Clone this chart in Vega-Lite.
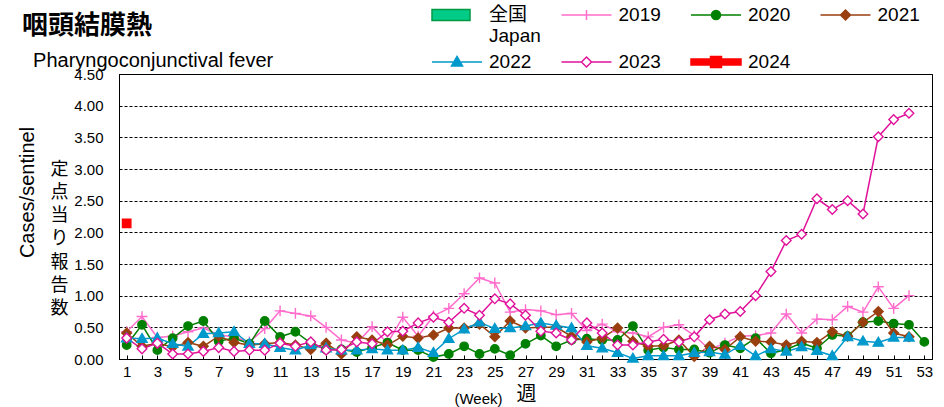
{
  "$schema": "https://vega.github.io/schema/vega-lite/v6.json",
  "width": 813,
  "height": 285,
  "autosize": {"type": "none"},
  "padding": {"left": 119, "top": 74, "right": 12, "bottom": 48},
  "config": {
    "font": "Liberation Sans, Noto Sans CJK JP, sans-serif",
    "view": {"stroke": "black", "strokeWidth": 1},
    "legend": {
      "orient": "none", "legendX": 327, "legendY": -70,
      "columns": 4, "direction": "horizontal", "title": null, "gridAlign": "all",
      "symbolSize": 400, "symbolStrokeWidth": 1.5, "symbolOpacity": 1,
      "labelFontSize": 19, "labelFont": "Liberation Sans, Noto Sans CJK JP", "labelColor": "black",
      "labelOffset": 21, "labelLimit": 200, "columnPadding": 17.5, "rowPadding": 5
    }
  },
  "title": {
    "text": "咽頭結膜熱",
    "subtitle": "\u200b\u00a0\u00a0Pharyngoconjunctival fever",
    "anchor": "start",
    "frame": "group",
    "dx": -97,
    "dy": 65,
    "offset": -2,
    "font": "Noto Sans CJK JP",
    "fontSize": 26,
    "fontWeight": "bold",
    "color": "black",
    "subtitleFont": "Liberation Sans",
    "subtitleFontSize": 20,
    "subtitleColor": "black",
    "subtitlePadding": 12
  },
  "data": {"values": [
    {"w":1,"s":"2019","v":0.43},{"w":2,"s":"2019","v":0.67},{"w":3,"s":"2019","v":0.34},{"w":4,"s":"2019","v":0.36},{"w":5,"s":"2019","v":0.43},{"w":6,"s":"2019","v":0.49},{"w":7,"s":"2019","v":0.38},{"w":8,"s":"2019","v":0.35},{"w":9,"s":"2019","v":0.27},{"w":10,"s":"2019","v":0.48},
    {"w":11,"s":"2019","v":0.76},{"w":12,"s":"2019","v":0.72},{"w":13,"s":"2019","v":0.68},{"w":14,"s":"2019","v":0.50},{"w":15,"s":"2019","v":0.30},{"w":16,"s":"2019","v":0.25},{"w":17,"s":"2019","v":0.51},{"w":18,"s":"2019","v":0.25},{"w":19,"s":"2019","v":0.66},{"w":20,"s":"2019","v":0.36},
    {"w":21,"s":"2019","v":0.68},{"w":22,"s":"2019","v":0.80},{"w":23,"s":"2019","v":1.03},{"w":24,"s":"2019","v":1.28},{"w":25,"s":"2019","v":1.20},{"w":26,"s":"2019","v":0.74},{"w":27,"s":"2019","v":0.78},{"w":28,"s":"2019","v":0.76},{"w":29,"s":"2019","v":0.70},{"w":30,"s":"2019","v":0.72},
    {"w":31,"s":"2019","v":0.45},{"w":32,"s":"2019","v":0.55},{"w":33,"s":"2019","v":0.43},{"w":34,"s":"2019","v":0.41},{"w":35,"s":"2019","v":0.35},{"w":36,"s":"2019","v":0.50},{"w":37,"s":"2019","v":0.54},{"w":38,"s":"2019","v":0.37},{"w":39,"s":"2019","v":0.15},{"w":40,"s":"2019","v":0.25},
    {"w":41,"s":"2019","v":0.36},{"w":42,"s":"2019","v":0.37},{"w":43,"s":"2019","v":0.41},{"w":44,"s":"2019","v":0.71},{"w":45,"s":"2019","v":0.41},{"w":46,"s":"2019","v":0.63},{"w":47,"s":"2019","v":0.62},{"w":48,"s":"2019","v":0.83},{"w":49,"s":"2019","v":0.74},{"w":50,"s":"2019","v":1.14},
    {"w":51,"s":"2019","v":0.80},{"w":52,"s":"2019","v":1.00},

    {"w":1,"s":"2020","v":0.22},{"w":2,"s":"2020","v":0.54},{"w":3,"s":"2020","v":0.14},{"w":4,"s":"2020","v":0.33},{"w":5,"s":"2020","v":0.52},{"w":6,"s":"2020","v":0.60},{"w":7,"s":"2020","v":0.28},{"w":8,"s":"2020","v":0.33},{"w":9,"s":"2020","v":0.24},{"w":10,"s":"2020","v":0.60},
    {"w":11,"s":"2020","v":0.35},{"w":12,"s":"2020","v":0.43},{"w":13,"s":"2020","v":0.25},{"w":14,"s":"2020","v":0.15},{"w":15,"s":"2020","v":0.15},{"w":16,"s":"2020","v":0.11},{"w":17,"s":"2020","v":0.18},{"w":18,"s":"2020","v":0.26},{"w":19,"s":"2020","v":0.14},{"w":20,"s":"2020","v":0.14},
    {"w":21,"s":"2020","v":0.03},{"w":22,"s":"2020","v":0.08},{"w":23,"s":"2020","v":0.20},{"w":24,"s":"2020","v":0.08},{"w":25,"s":"2020","v":0.16},{"w":26,"s":"2020","v":0.06},{"w":27,"s":"2020","v":0.24},{"w":28,"s":"2020","v":0.37},{"w":29,"s":"2020","v":0.20},{"w":30,"s":"2020","v":0.30},
    {"w":31,"s":"2020","v":0.32},{"w":32,"s":"2020","v":0.30},{"w":33,"s":"2020","v":0.30},{"w":34,"s":"2020","v":0.52},{"w":35,"s":"2020","v":0.14},{"w":36,"s":"2020","v":0.18},{"w":37,"s":"2020","v":0.15},{"w":38,"s":"2020","v":0.15},{"w":39,"s":"2020","v":0.10},{"w":40,"s":"2020","v":0.22},
    {"w":41,"s":"2020","v":0.17},{"w":42,"s":"2020","v":0.33},{"w":43,"s":"2020","v":0.09},{"w":44,"s":"2020","v":0.15},{"w":45,"s":"2020","v":0.25},{"w":46,"s":"2020","v":0.17},{"w":47,"s":"2020","v":0.38},{"w":48,"s":"2020","v":0.36},{"w":49,"s":"2020","v":0.58},{"w":50,"s":"2020","v":0.60},
    {"w":51,"s":"2020","v":0.56},{"w":52,"s":"2020","v":0.54},{"w":53,"s":"2020","v":0.27},

    {"w":1,"s":"2021","v":0.41},{"w":2,"s":"2021","v":0.20},{"w":3,"s":"2021","v":0.25},{"w":4,"s":"2021","v":0.19},{"w":5,"s":"2021","v":0.26},{"w":6,"s":"2021","v":0.20},{"w":7,"s":"2021","v":0.36},{"w":8,"s":"2021","v":0.26},{"w":9,"s":"2021","v":0.22},{"w":10,"s":"2021","v":0.24},
    {"w":11,"s":"2021","v":0.26},{"w":12,"s":"2021","v":0.22},{"w":13,"s":"2021","v":0.15},{"w":14,"s":"2021","v":0.25},{"w":15,"s":"2021","v":0.08},{"w":16,"s":"2021","v":0.35},{"w":17,"s":"2021","v":0.30},{"w":18,"s":"2021","v":0.22},{"w":19,"s":"2021","v":0.36},{"w":20,"s":"2021","v":0.33},
    {"w":21,"s":"2021","v":0.38},{"w":22,"s":"2021","v":0.49},{"w":23,"s":"2021","v":0.49},{"w":24,"s":"2021","v":0.55},{"w":25,"s":"2021","v":0.35},{"w":26,"s":"2021","v":0.60},{"w":27,"s":"2021","v":0.49},{"w":28,"s":"2021","v":0.50},{"w":29,"s":"2021","v":0.50},{"w":30,"s":"2021","v":0.36},
    {"w":31,"s":"2021","v":0.27},{"w":32,"s":"2021","v":0.33},{"w":33,"s":"2021","v":0.49},{"w":34,"s":"2021","v":0.28},{"w":35,"s":"2021","v":0.20},{"w":36,"s":"2021","v":0.21},{"w":37,"s":"2021","v":0.30},{"w":38,"s":"2021","v":0.04},{"w":39,"s":"2021","v":0.20},{"w":40,"s":"2021","v":0.15},
    {"w":41,"s":"2021","v":0.35},{"w":42,"s":"2021","v":0.28},{"w":43,"s":"2021","v":0.27},{"w":44,"s":"2021","v":0.22},{"w":45,"s":"2021","v":0.28},{"w":46,"s":"2021","v":0.26},{"w":47,"s":"2021","v":0.43},{"w":48,"s":"2021","v":0.36},{"w":49,"s":"2021","v":0.58},{"w":50,"s":"2021","v":0.75},
    {"w":51,"s":"2021","v":0.41},{"w":52,"s":"2021","v":0.35},

    {"w":1,"s":"2022","v":0.33},{"w":2,"s":"2022","v":0.32},{"w":3,"s":"2022","v":0.33},{"w":4,"s":"2022","v":0.24},{"w":5,"s":"2022","v":0.20},{"w":6,"s":"2022","v":0.40},{"w":7,"s":"2022","v":0.41},{"w":8,"s":"2022","v":0.43},{"w":9,"s":"2022","v":0.24},{"w":10,"s":"2022","v":0.24},
    {"w":11,"s":"2022","v":0.18},{"w":12,"s":"2022","v":0.14},{"w":13,"s":"2022","v":0.22},{"w":14,"s":"2022","v":0.17},{"w":15,"s":"2022","v":0.14},{"w":16,"s":"2022","v":0.14},{"w":17,"s":"2022","v":0.16},{"w":18,"s":"2022","v":0.14},{"w":19,"s":"2022","v":0.14},{"w":20,"s":"2022","v":0.18},
    {"w":21,"s":"2022","v":0.10},{"w":22,"s":"2022","v":0.32},{"w":23,"s":"2022","v":0.47},{"w":24,"s":"2022","v":0.58},{"w":25,"s":"2022","v":0.48},{"w":26,"s":"2022","v":0.49},{"w":27,"s":"2022","v":0.52},{"w":28,"s":"2022","v":0.57},{"w":29,"s":"2022","v":0.53},{"w":30,"s":"2022","v":0.49},
    {"w":31,"s":"2022","v":0.21},{"w":32,"s":"2022","v":0.17},{"w":33,"s":"2022","v":0.10},{"w":34,"s":"2022","v":0.01},{"w":35,"s":"2022","v":0.05},{"w":36,"s":"2022","v":0.05},{"w":37,"s":"2022","v":0.05},{"w":38,"s":"2022","v":0.10},{"w":39,"s":"2022","v":0.11},{"w":40,"s":"2022","v":0.07},
    {"w":41,"s":"2022","v":0.21},{"w":42,"s":"2022","v":0.05},{"w":43,"s":"2022","v":0.16},{"w":44,"s":"2022","v":0.12},{"w":45,"s":"2022","v":0.19},{"w":46,"s":"2022","v":0.13},{"w":47,"s":"2022","v":0.05},{"w":48,"s":"2022","v":0.35},{"w":49,"s":"2022","v":0.28},{"w":50,"s":"2022","v":0.26},
    {"w":51,"s":"2022","v":0.34},{"w":52,"s":"2022","v":0.34},

    {"w":1,"s":"2023","v":0.33},{"w":2,"s":"2023","v":0.16},{"w":3,"s":"2023","v":0.25},{"w":4,"s":"2023","v":0.08},{"w":5,"s":"2023","v":0.08},{"w":6,"s":"2023","v":0.12},{"w":7,"s":"2023","v":0.18},{"w":8,"s":"2023","v":0.12},{"w":9,"s":"2023","v":0.14},{"w":10,"s":"2023","v":0.14},
    {"w":11,"s":"2023","v":0.25},{"w":12,"s":"2023","v":0.20},{"w":13,"s":"2023","v":0.27},{"w":14,"s":"2023","v":0.14},{"w":15,"s":"2023","v":0.15},{"w":16,"s":"2023","v":0.27},{"w":17,"s":"2023","v":0.24},{"w":18,"s":"2023","v":0.43},{"w":19,"s":"2023","v":0.44},{"w":20,"s":"2023","v":0.57},
    {"w":21,"s":"2023","v":0.66},{"w":22,"s":"2023","v":0.58},{"w":23,"s":"2023","v":0.80},{"w":24,"s":"2023","v":0.69},{"w":25,"s":"2023","v":0.95},{"w":26,"s":"2023","v":0.87},{"w":27,"s":"2023","v":0.69},{"w":28,"s":"2023","v":0.44},{"w":29,"s":"2023","v":0.41},{"w":30,"s":"2023","v":0.30},
    {"w":31,"s":"2023","v":0.57},{"w":32,"s":"2023","v":0.41},{"w":33,"s":"2023","v":0.22},{"w":34,"s":"2023","v":0.22},{"w":35,"s":"2023","v":0.27},{"w":36,"s":"2023","v":0.31},{"w":37,"s":"2023","v":0.27},{"w":38,"s":"2023","v":0.35},{"w":39,"s":"2023","v":0.62},{"w":40,"s":"2023","v":0.71},
    {"w":41,"s":"2023","v":0.75},{"w":42,"s":"2023","v":1.00},{"w":43,"s":"2023","v":1.38},{"w":44,"s":"2023","v":1.87},{"w":45,"s":"2023","v":1.97},{"w":46,"s":"2023","v":2.53},{"w":47,"s":"2023","v":2.36},{"w":48,"s":"2023","v":2.50},{"w":49,"s":"2023","v":2.29},{"w":50,"s":"2023","v":3.51},
    {"w":51,"s":"2023","v":3.78},{"w":52,"s":"2023","v":3.88},

    {"w":1,"s":"2024","v":2.14}
  ]},
  "layer": [
    {
      "mark": {"type": "line", "strokeWidth": 1.5},
      "encoding": {
        "x": {"field": "w", "type": "quantitative",
          "scale": {"domain": [0.5, 53.5], "nice": false, "zero": false},
          "axis": {
            "orient": "bottom",
            "values": [1,2,3,4,5,6,7,8,9,10,11,12,13,14,15,16,17,18,19,20,21,22,23,24,25,26,27,28,29,30,31,32,33,34,35,36,37,38,39,40,41,42,43,44,45,46,47,48,49,50,51,52,53],
            "labelExpr": "datum.value % 2 == 1 ? datum.label : ''",
            "labelFontSize": 15, "labelColor": "black", "labelFont": "Liberation Sans",
            "labelPadding": 9, "labelAngle": 0, "labelOverlap": false, "labelFlush": false,
            "tickSize": -4, "tickColor": "black", "domainColor": "black", "grid": false,
            "title": "(Week)", "titleX": 359, "titleY": 39, "titleAlign": "center", "titleBaseline": "middle",
            "titleFontSize": 15, "titleFontWeight": "normal", "titleFont": "Liberation Sans", "titleColor": "black"
          }
        },
        "y": {"field": "v", "type": "quantitative",
          "scale": {"domain": [0, 4.5], "nice": false},
          "axis": {
            "orient": "left",
            "values": [0, 0.5, 1, 1.5, 2, 2.5, 3, 3.5, 4, 4.5],
            "format": ".2f",
            "labelFontSize": 15, "labelColor": "black", "labelFont": "Liberation Sans", "labelPadding": 16,
            "ticks": false, "domainColor": "black",
            "grid": true, "gridColor": "black", "gridDash": [3, 2], "gridOpacity": 1, "gridWidth": 1,
            "title": ["定", "点", "当", "り", "報", "告", "数"],
            "titleAngle": 0, "titleX": -60, "titleY": 86, "titleAlign": "center", "titleBaseline": "top",
            "titleFont": "Noto Sans CJK JP", "titleFontSize": 18, "titleFontWeight": "normal", "titleLineHeight": 23.3, "titleColor": "black"
          }
        },
        "stroke": {"field": "s", "type": "nominal",
          "scale": {"domain": ["2019", "2020", "2021", "2022", "2023", "2024"],
                    "range": ["#ff6ccc", "#008000", "#993f0f", "#0099cc", "#e0139a", "#ff0000"]},
          "legend": null
        }
      }
    },
    {
      "mark": {"type": "point", "filled": true, "size": 144, "strokeWidth": 1.4, "opacity": 1},
      "encoding": {
        "x": {"field": "w", "type": "quantitative",
          "axis": {
            "orient": "bottom", "domain": false, "ticks": false, "labels": false, "grid": false,
            "title": "週", "titleX": 407, "titleY": 35, "titleAlign": "center", "titleBaseline": "middle",
            "titleFont": "Noto Sans CJK JP", "titleFontSize": 20, "titleFontWeight": "normal", "titleColor": "black"
          }
        },
        "y": {"field": "v", "type": "quantitative",
          "axis": {
            "orient": "left", "domain": false, "ticks": false, "labels": false, "grid": false,
            "title": "Cases/sentinel", "titleAngle": -90, "titleX": -92, "titleY": 118,
            "titleAlign": "center", "titleBaseline": "middle",
            "titleFont": "Liberation Sans", "titleFontSize": 20, "titleFontWeight": "normal", "titleColor": "black"
          }
        },
        "stroke": {"field": "s", "type": "nominal",
          "scale": {"domain": ["2019", "2020", "2021", "2022", "2023", "2024"],
                    "range": ["#ff6ccc", "#008000", "#993f0f", "#0099cc", "#e0139a", "#ff0000"]},
          "legend": null
        },
        "fill": {"field": "s", "type": "nominal",
          "scale": {"domain": ["2019", "2020", "2021", "2022", "2023", "2024"],
                    "range": ["transparent", "#008000", "#993f0f", "#0099cc", "#ffffff", "#ff0000"]},
          "legend": null
        },
        "shape": {"field": "s", "type": "nominal",
          "scale": {"domain": ["2019", "2020", "2021", "2022", "2023", "2024"],
                    "range": ["M-0.9,0H0.9M0,-0.9V0.9", "M0.7,0A0.7,0.7,0,1,1,-0.7,0A0.7,0.7,0,1,1,0.7,0Z", "M0,-0.8L0.8,0L0,0.8L-0.8,0Z", "M0,-0.85L0.85,0.6L-0.85,0.6Z", "M0,-0.8L0.8,0L0,0.8L-0.8,0Z", "M-0.7,-0.7H0.7V0.7H-0.7Z"]},
          "legend": null
        }
      }
    },
    {
      "transform": [{"filter": "false"}],
      "mark": {"type": "point", "filled": true, "opacity": 1},
      "encoding": {
        "x": {"field": "w", "type": "quantitative", "axis": null},
        "y": {"field": "v", "type": "quantitative", "axis": null},
        "stroke": {"field": "s", "type": "nominal",
          "scale": {"domain": ["全国 Japan", "2019", "2020", "2021", "2022", "2023", "2024"],
                    "range": ["#009944", "#ff6ccc", "#008000", "#993f0f", "#0099cc", "#e0139a", "#ff0000"]},
          "legend": {"labelExpr": "datum.value == '全国 Japan' ? ['全国', 'Japan'] : [datum.label, ' ']"}
        },
        "fill": {"field": "s", "type": "nominal",
          "scale": {"domain": ["全国 Japan", "2019", "2020", "2021", "2022", "2023", "2024"],
                    "range": ["#00cc88", "transparent", "#008000", "#993f0f", "#0099cc", "#ffffff", "#ff0000"]},
          "legend": {"labelExpr": "datum.value == '全国 Japan' ? ['全国', 'Japan'] : [datum.label, ' ']"}
        },
        "shape": {"field": "s", "type": "nominal",
          "scale": {"domain": ["全国 Japan", "2019", "2020", "2021", "2022", "2023", "2024"],
                    "range": ["M-2.5,-0.55H1.3V0.55H-2.5Z", "M-2.5,0H2.5M0,-0.5V0.5", "M-2.5,0H2.5M0.45,0A0.45,0.45,0,1,1,-0.45,0A0.45,0.45,0,1,1,0.45,0Z", "M-2.5,0H2.5M0,-0.5L0.5,0L0,0.5L-0.5,0Z", "M-2.5,0H2.5M0,-0.55L0.55,0.4L-0.55,0.4Z", "M-2.5,0H-0.5M0.5,0H2.5M0,-0.5L0.5,0L0,0.5L-0.5,0Z", "M-2.5,-0.3H2.5V0.3H-2.5ZM-0.55,-0.55H0.55V0.55H-0.55Z"]},
          "legend": {"labelExpr": "datum.value == '全国 Japan' ? ['全国', 'Japan'] : [datum.label, ' ']"}
        }
      }
    }
  ],
  "resolve": {
    "axis": {"x": "independent", "y": "independent"},
    "scale": {"stroke": "independent", "fill": "independent", "shape": "independent"}
  }
}
